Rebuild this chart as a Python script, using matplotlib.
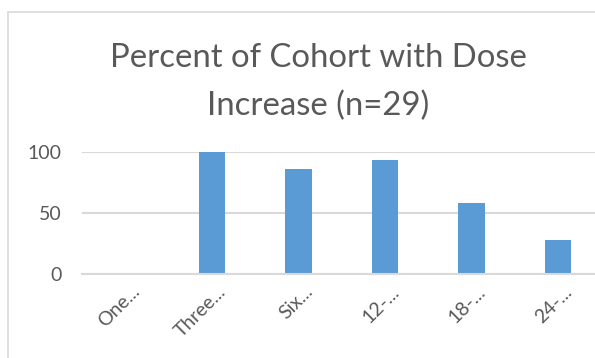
import matplotlib.pyplot as plt
from matplotlib.patches import Rectangle
from matplotlib.transforms import ScaledTranslation

# time since start of therapy, share of the 29 patients with a dose increase
periods = ["One...", "Three...", "Six...", "12-...", "18-...", "24-..."]
percent = [0, 100, 86.2, 93.1, 58.6, 27.6]
yticks = [0, 50, 100]

text_grey = "#595959"
grid_grey = "#d9d9d9"
bar_blue = "#5b9bd5"

plt.rcParams["font.family"] = ["Lato", "DejaVu Sans"]

fig = plt.figure(figsize=(5.95, 3.58), dpi=100)

# chart frame, only left and top edges show in the crop
fig.patches.append(Rectangle((8 / 595, -0.1), 1.2, 1.1 - 12 / 358,
                             transform=fig.transFigure, fill=False,
                             edgecolor=grid_grey, linewidth=1.2))

ax = fig.add_axes([82.25 / 595, 84 / 358, 519 / 595, 122 / 358])
x = range(len(periods))
ax.bar(x, percent, width=0.31, color=bar_blue, zorder=3)

ax.set_xlim(-0.5, len(periods) - 0.5)
ax.set_ylim(0, 100)
ax.set_yticks(yticks)
ax.set_yticklabels([str(v) for v in yticks])
ax.yaxis.grid(True, color=grid_grey, linewidth=1.5, zorder=0)
ax.set_axisbelow(True)
for side in ["top", "right", "left"]:
    ax.spines[side].set_visible(False)
ax.spines["bottom"].set_color(grid_grey)
ax.spines["bottom"].set_linewidth(1.5)
ax.spines["bottom"].set_zorder(4)

ax.tick_params(axis="both", length=0, colors=text_grey, labelsize=14)
ax.tick_params(axis="y", pad=15)
ax.tick_params(axis="x", pad=13.5)

ax.set_xticks(list(x))
ax.set_xticklabels(periods, rotation=45, ha="right", va="baseline",
                   rotation_mode="anchor")
shift = ScaledTranslation(15 / 100, 0, fig.dpi_scale_trans)
for lab in ax.get_xticklabels():
    lab.set_transform(lab.get_transform() + shift)

fig.text(318.5 / 595, 1 - 115 / 358, "Percent of Cohort with Dose\nIncrease (n=29)",
         ha="center", va="baseline", fontsize=23.7, color=text_grey,
         linespacing=1.7, multialignment="center")

fig.savefig("out.png", dpi=100)
